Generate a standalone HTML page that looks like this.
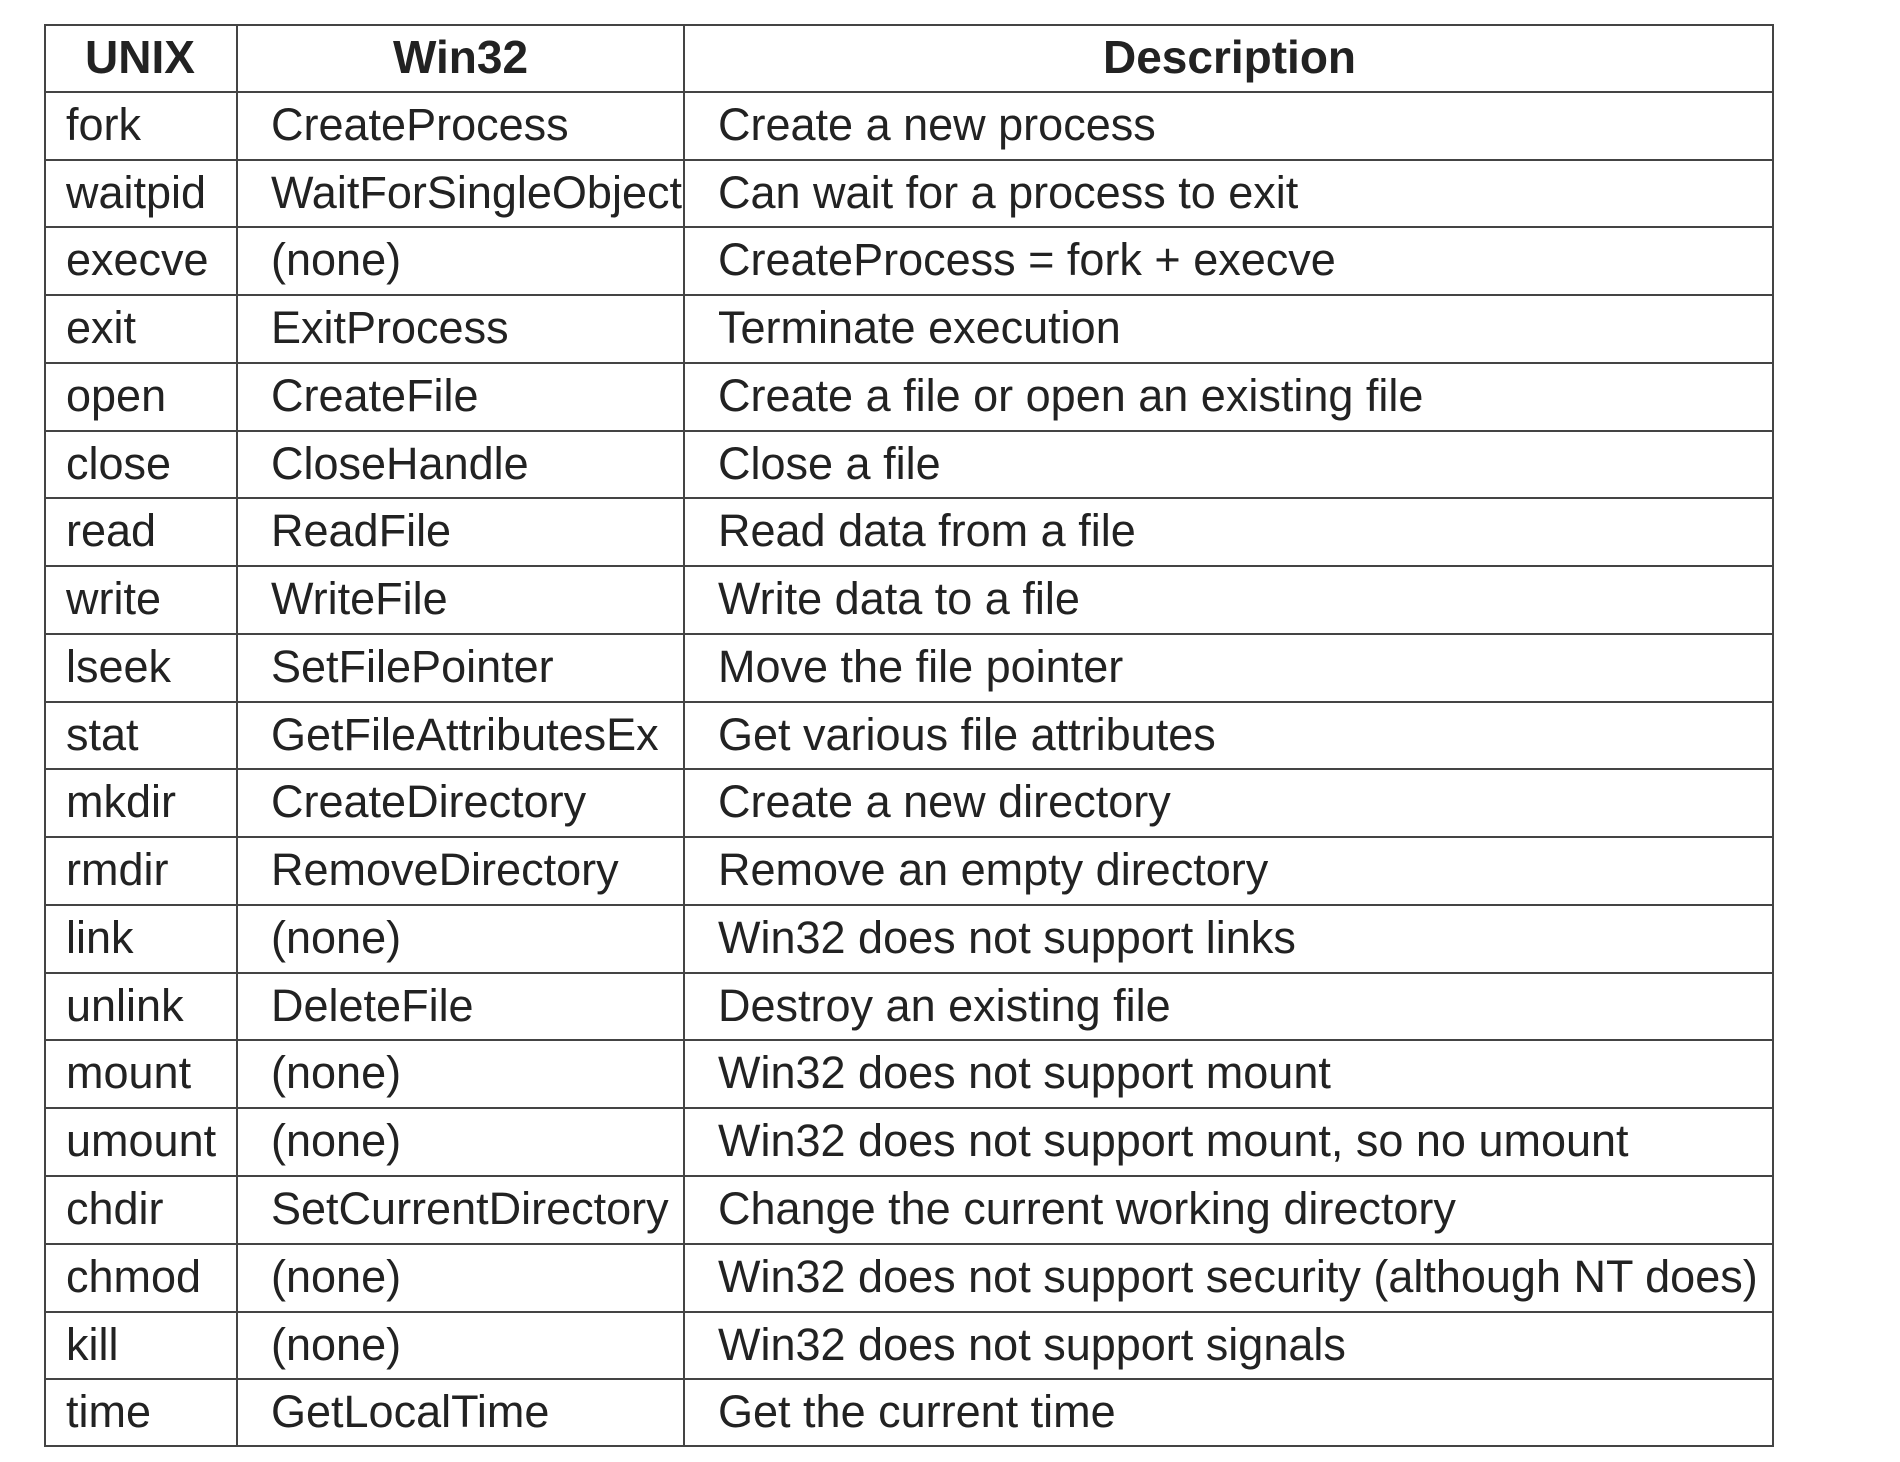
<!DOCTYPE html>
<html><head><meta charset="utf-8"><style>
html,body{margin:0;padding:0;background:#fff;width:1900px;height:1462px;overflow:hidden}
.t{position:absolute;left:44px;top:24px;width:1730px;height:1423px;border:2px solid #444;box-sizing:border-box}
.h{position:absolute;background:#444;height:2px;left:44px;width:1730px}
.v{position:absolute;background:#444;width:2px;top:24px;height:1423px}
.c{position:absolute;font-family:"Liberation Sans",Arial,sans-serif;font-size:45px;color:#222;line-height:68px;height:68px;white-space:nowrap}
.b{font-weight:bold;text-align:center;font-size:46px}
</style></head><body>
<div class="t"></div>
<div class="v" style="left:236px"></div>
<div class="v" style="left:683px"></div>
<div id="rows"></div>
<script>
var d=[["fork","CreateProcess","Create a new process"],["waitpid","WaitForSingleObject","Can wait for a process to exit"],["execve","(none)","CreateProcess = fork + execve"],["exit","ExitProcess","Terminate execution"],["open","CreateFile","Create a file or open an existing file"],["close","CloseHandle","Close a file"],["read","ReadFile","Read data from a file"],["write","WriteFile","Write data to a file"],["lseek","SetFilePointer","Move the file pointer"],["stat","GetFileAttributesEx","Get various file attributes"],["mkdir","CreateDirectory","Create a new directory"],["rmdir","RemoveDirectory","Remove an empty directory"],["link","(none)","Win32 does not support links"],["unlink","DeleteFile","Destroy an existing file"],["mount","(none)","Win32 does not support mount"],["umount","(none)","Win32 does not support mount, so no umount"],["chdir","SetCurrentDirectory","Change the current working directory"],["chmod","(none)","Win32 does not support security (although NT does)"],["kill","(none)","Win32 does not support signals"],["time","GetLocalTime","Get the current time"]];
var h='',rh=1423/21;
function esc(s){return s.replace(/&/g,'&amp;').replace(/</g,'&lt;');}
h+='<div class="c b" style="left:44px;width:192px;top:23px">UNIX</div>';
h+='<div class="c b" style="left:238px;width:445px;top:23px">Win32</div>';
h+='<div class="c b" style="left:685px;width:1089px;top:23px">Description</div>';
for(var i=0;i<d.length;i++){var y=24+rh*(i+1);
h+='<div class="h" style="top:'+(y-1).toFixed(1)+'px"></div>';
var ty=(y-1).toFixed(1);
h+='<div class="c" style="left:66px;top:'+ty+'px">'+esc(d[i][0])+'</div>';
h+='<div class="c" style="left:271px;top:'+ty+'px">'+esc(d[i][1])+'</div>';
h+='<div class="c" style="left:718px;top:'+ty+'px">'+esc(d[i][2])+'</div>';}
document.getElementById('rows').innerHTML=h;
</script>
</body></html>
